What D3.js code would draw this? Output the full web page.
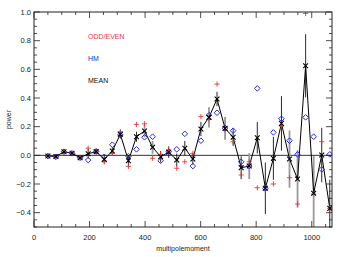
<!DOCTYPE html>
<html><head><meta charset="utf-8">
<script src="https://cdn.jsdelivr.net/npm/d3@7"></script>
<style>body{margin:0;background:#fff}svg{display:block}text{font-family:"Liberation Sans",Arial,sans-serif}</style>
</head><body>
<script>
const multipoles = [50,79,108,137,166,195,224,253,282,311,340,369,398,427,456,485,514,543,572,601,630,659,688,717,746,775,804,833,862,891,920,949,978,1007,1036,1065];
const meanVals = [-0.005,-0.008,0.025,0.014,-0.017,0.011,0.026,-0.028,0.03,0.147,-0.038,0.13,0.17,0.056,-0.01,0.022,-0.033,0.05,-0.026,0.184,0.265,0.393,0.188,0.126,-0.086,-0.075,0.123,-0.23,-0.021,0.223,-0.026,-0.165,0.625,-0.265,0.002,-0.37];
const oddEvenVals = [-0.005,-0.01,0.025,0.014,-0.017,0.05,0.028,-0.045,0.014,0.165,-0.077,0.216,0.22,-0.021,0.007,0.037,-0.09,-0.045,0.014,0.27,0.25,0.497,0.177,0.095,-0.137,-0.045,-0.226,-0.242,-0.2,0.204,-0.156,-0.34,0.99,-0.27,0.095,-0.37];
const hmVals = [-0.005,-0.01,0.025,0.014,-0.017,-0.033,0.028,-0.01,0.074,0.142,-0.007,0.042,0.126,0.13,-0.038,0.025,0.042,0.15,-0.075,0.102,0.28,0.297,0.19,0.172,-0.045,-0.075,0.467,-0.23,0.16,0.255,0.102,0.007,0.265,0.13,-0.098,0.007];
const meanErr = [0.01,0.01,0.012,0.012,0.012,0.035,0.02,0.03,0.025,0.03,0.04,0.035,0.03,0.03,0.04,0.04,0.045,0.05,0.04,0.05,0.05,0.05,0.05,0.06,0.08,0.09,0.11,0.18,0.15,0.19,0.1,0.1,0.22,0.1,0.19,0.2];
const greyErr = [0,0,0,0,0,0,0,0,0,0,0,0,0.045,0.045,0,0,0,0,0,0,0.07,0,0.08,0,0,0.09,0,0,0,0,0.2,0.2,0,0.26,0,0];
const xTicks = [0,200,400,600,800,1000];
const yTicks = [-0.4,-0.2,0.0,0.2,0.4,0.6,0.8,1.0];
const legendLabels = ["ODD/EVEN","HM","MEAN"];

const W=346,H=257;
const L=34,R=332,T=12,B=227;
const svg=d3.select("body").append("svg").attr("width",W).attr("height",H);
const x=d3.scaleLinear().domain([0,1073]).range([L,R]);
const y=d3.scaleLinear().domain([-0.5,1.0]).range([B,T]);
const axisCol="#222";

const clip=svg.append("clipPath").attr("id","c").append("rect").attr("x",L).attr("y",T).attr("width",R-L).attr("height",B-T);
const g=svg.append("g").attr("clip-path","url(#c)");

// zero line
g.append("line").attr("x1",L).attr("x2",R).attr("y1",y(0)).attr("y2",y(0)).attr("stroke","#333").attr("stroke-width",1);

const idx=d3.range(multipoles.length);
// grey error bars
g.selectAll(".ge").data(idx.filter(i=>greyErr[i]>0)).join("line")
 .attr("x1",i=>x(multipoles[i])).attr("x2",i=>x(multipoles[i]))
 .attr("y1",i=>y(meanVals[i]-greyErr[i])).attr("y2",i=>y(meanVals[i]+greyErr[i]))
 .attr("stroke","#999").attr("stroke-width",1.8);
// black error bars
g.selectAll(".be").data(idx.filter(i=>greyErr[i]===0)).join("line")
 .attr("x1",i=>x(multipoles[i])).attr("x2",i=>x(multipoles[i]))
 .attr("y1",i=>y(meanVals[i]-meanErr[i])).attr("y2",i=>y(meanVals[i]+meanErr[i]))
 .attr("stroke","#111").attr("stroke-width",0.9);

// mean line
g.append("path").datum(idx).attr("fill","none").attr("stroke","#000").attr("stroke-width",1)
 .attr("d",d3.line().x(i=>x(multipoles[i])).y(i=>y(meanVals[i])));

// red plus
const s=2.6;
g.selectAll(".rp").data(idx).join("path")
 .attr("d",i=>{const cx=x(multipoles[i]),cy=y(oddEvenVals[i]);return `M${cx-s},${cy}H${cx+s}M${cx},${cy-s}V${cy+s}`;})
 .attr("stroke","#e03a3a").attr("stroke-width",0.9).attr("fill","none");
// blue diamonds
const d=2.8;
g.selectAll(".bd").data(idx).join("path")
 .attr("d",i=>{const cx=x(multipoles[i]),cy=y(hmVals[i]);return `M${cx},${cy-d}L${cx+d},${cy}L${cx},${cy+d}L${cx-d},${cy}Z`;})
 .attr("stroke","#2a2ad8").attr("stroke-width",1).attr("fill","none");
// black X
const k=2.4;
g.selectAll(".bx").data(idx).join("path")
 .attr("d",i=>{const cx=x(multipoles[i]),cy=y(meanVals[i]);return `M${cx-k},${cy-k}L${cx+k},${cy+k}M${cx-k},${cy+k}L${cx+k},${cy-k}`;})
 .attr("stroke","#000").attr("stroke-width",1.1).attr("fill","none");

// frame
svg.append("rect").attr("x",L).attr("y",T).attr("width",R-L).attr("height",B-T).attr("fill","none").attr("stroke",axisCol).attr("stroke-width",1);

// ticks
const xMinor=d3.range(0,1073,50), yMinor=d3.range(-0.5,1.0001,0.05);
const tg=svg.append("g").attr("stroke",axisCol).attr("stroke-width",0.8);
xMinor.forEach(v=>{const major=Math.abs(v%200)<1e-6;const len=major?6:3;
 tg.append("line").attr("x1",x(v)).attr("x2",x(v)).attr("y1",B).attr("y2",B-len);
 tg.append("line").attr("x1",x(v)).attr("x2",x(v)).attr("y1",T).attr("y2",T+len);});
yMinor.forEach(v=>{const r=Math.round(v*100)/100;const major=Math.abs(Math.round(r*10)%2)===0&&Math.abs(r*10-Math.round(r*10))<1e-6;const len=major?6:3;
 tg.append("line").attr("x1",L).attr("x2",L+len).attr("y1",y(r)).attr("y2",y(r));
 tg.append("line").attr("x1",R).attr("x2",R-len).attr("y1",y(r)).attr("y2",y(r));});

// tick labels
svg.selectAll(".xl").data(xTicks).join("text").attr("x",v=>x(v)).attr("y",240)
 .attr("text-anchor","middle").attr("font-size",7.5).attr("fill","#222").text(v=>v);
svg.selectAll(".yl").data(yTicks).join("text").attr("x",31).attr("y",v=>y(v)+2.6)
 .attr("text-anchor","end").attr("font-size",7.5).attr("fill","#222").text(v=>(v<0?"\u2212":"")+Math.abs(v).toFixed(1));

svg.append("text").attr("x",(L+R)/2).attr("y",251).attr("text-anchor","middle").attr("font-size",7).attr("fill","#222").text("multipolemoment");
svg.append("text").attr("transform",`translate(11,${(T+B)/2}) rotate(-90)`).attr("text-anchor","middle").attr("font-size",7).attr("fill","#222").text("power");

const legCols=["#e03a3a","#2a2ad8","#111"];
svg.selectAll(".lg").data(legendLabels).join("text").attr("x",88).attr("y",(t,i)=>38.5+i*22)
 .attr("font-size",7).attr("fill",(t,i)=>legCols[i]).text(t=>t);
</script>
</body></html>
